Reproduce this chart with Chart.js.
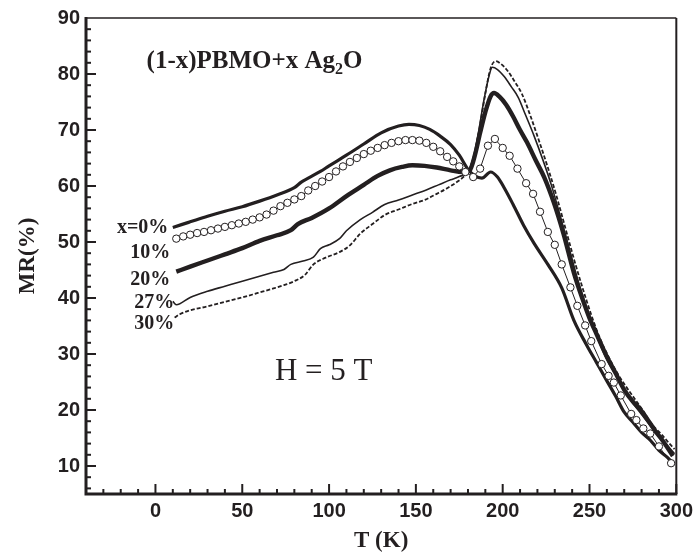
<!DOCTYPE html>
<html><head><meta charset="utf-8">
<script src="https://cdn.jsdelivr.net/npm/chart.js@4"></script>
<style>html,body{margin:0;padding:0;background:#fff}canvas{display:block}</style>
</head><body>
<canvas id="c" width="698" height="559" style="width:698px;height:559px"></canvas>
<script>
// ---- data ----
const xTicks = [0, 50, 100, 150, 200, 250, 300];
const yTicks = [10, 20, 30, 40, 50, 60, 70, 80, 90];
const seriesLabels = ['x=0%', '10%', '20%', '27%', '30%'];

const T0  = [10,15,20,30,40,50,60,70,80,84,88,95,100,110,120,130,140,146,152,158,164,170,175,180,184,188,193,197,201,206,212,218,226,234,241,248,254,260,265,270,275,280,285,290,295,298];
const MR0 = [52.6,53.1,53.6,54.6,55.5,56.3,57.3,58.4,59.7,60.7,61.4,62.6,63.6,65.5,67.5,69.5,70.7,71.0,70.8,70.1,68.9,67.4,65.5,63.0,61.8,61.4,62.5,61.6,59.6,56.7,53.0,49.8,46.0,41.8,36.0,31.8,28.5,25.2,22.5,19.6,17.8,16.0,14.6,12.8,11.5,10.5];

const T10  = [12,16,20,24,28,32,36,40,44,48,52,56,60,64,68,72,76,80,84,88,92,96,100,104,108,112,116,120,124,128,132,136,140,144,148,152,156,160,164,168,171.5,175,178.5,183,187,191.5,195.5,200,204,208.5,213.5,217.5,221.5,226,230,234,239,243,247.5,251,257,261,264,268,274,277,281,285,290,297];
const MR10 = [50.6,51.0,51.3,51.6,51.8,52.1,52.4,52.7,53.0,53.3,53.6,54.0,54.4,54.9,55.6,56.4,57.0,57.6,58.2,59.2,60.0,60.8,61.6,62.6,63.5,64.3,65.0,65.7,66.3,66.8,67.3,67.7,68.0,68.2,68.2,68.1,67.7,67.0,66.2,65.2,64.4,63.5,62.5,61.6,63.1,67.2,68.4,66.8,65.4,63.1,60.5,58.6,55.4,51.8,49.5,46.0,41.9,38.6,35.1,32.3,28.2,26.1,24.9,22.6,19.3,18.2,16.7,15.8,13.5,10.5];

const T20  = [12,20,30,40,50,60,70,78,82,90,100,110,120,128,135,142,148,155,162,170,177,181,184,187,190,193,195,198,202,206,210,214,219,224,229.5,235,241,246,250,254,260,265,270,275,279,283,288,292,298];
const MR20 = [44.7,45.6,46.7,47.8,48.9,50.2,51.2,52.1,53.2,54.3,56.0,58.2,60.2,61.8,62.8,63.4,63.7,63.6,63.3,62.8,62.5,62.8,65.5,69.5,73.2,76.0,76.6,76.0,74.5,72.4,70.0,67.8,64.6,61.5,57.0,51.5,44.5,39.8,36.4,33.6,29.5,26.6,23.6,21.5,20.2,18.5,16.2,14.6,11.8];

const T27  = [10,12,20,30,40,50,59,68,74,78,85,91,95,100,106,110,118,125,132,140,148,156,163,170,175,180,183,186,189,192,194,197,201,205,209,213,218,223,228,233,238,243,248,252,256,260,265,270,275,280,285,290,295,299];
const MR27 = [39.4,38.8,40.1,41.2,42.1,43.0,43.8,44.6,45.1,46.0,46.6,47.3,48.8,49.5,50.6,52.0,54.0,55.3,56.7,57.5,58.4,59.3,60.2,61.1,61.7,62.6,65.0,69.5,75.0,79.5,81.2,80.8,79.5,77.7,75.8,72.8,69.0,64.8,60.2,54.8,49.2,43.5,38.6,35.0,31.8,29.0,26.3,23.6,21.2,19.2,17.2,15.4,13.6,12.2];

const T30  = [11,14,20,30,40,50,59,68,74,80,86,91,98,106,112,118,125,132,140,148,155,162,168,174,178,181,184,187,190,193,196,199,203,207,211,216,221,226,231,236,241,246,251,256,261,266,271,276,281,286,291,296,299];
const MR30 = [36.5,37.1,37.8,38.5,39.3,40.1,40.9,41.7,42.3,43.0,44.1,46.0,47.2,48.2,49.4,51.5,53.2,54.8,55.8,56.8,57.5,58.6,59.6,60.8,61.8,63.0,66.0,71.0,76.5,81.0,82.3,81.8,80.5,78.6,76.5,72.5,68.0,63.3,58.2,52.6,47.0,41.8,37.0,32.8,29.5,26.6,24.2,22.0,19.8,17.4,15.8,14.0,13.0];

// ---- chart ----
const INK = '#231f20';
const SANS = '"Liberation Sans", Arial, Helvetica, sans-serif';
const SERIF = '"Liberation Serif", "Times New Roman", Times, serif';
const pts = (xs, ys) => xs.map((x, i) => ({x, y: ys[i]}));

const annotations = [
  {text: 'x=0%', t: 7.4,  mr: 52.5, align: 'right', font: 'bold 20px ' + SERIF},
  {text: '10%',  t: 8.5,  mr: 48.1, align: 'right', font: 'bold 20px ' + SERIF},
  {text: '20%',  t: 8.5,  mr: 43.3, align: 'right', font: 'bold 20px ' + SERIF},
  {text: '27%',  t: 10.8, mr: 39.1, align: 'right', font: 'bold 20px ' + SERIF},
  {text: '30%',  t: 10.8, mr: 35.3, align: 'right', font: 'bold 20px ' + SERIF},
  {text: 'H = 5 T', t: 68.8, mr: 26.8, align: 'left', font: '31px ' + SERIF}
];

const framePlugin = {
  id: 'frame',
  afterDraw(chart) {
    const {ctx, chartArea: a, scales: {x, y}} = chart;
    ctx.save();
    ctx.strokeStyle = INK;
    ctx.lineCap = 'butt';
    ctx.lineWidth = 1.5;
    ctx.beginPath(); ctx.moveTo(a.left, a.top); ctx.lineTo(a.right, a.top); ctx.stroke();
    ctx.lineWidth = 2;
    ctx.beginPath(); ctx.moveTo(a.right, a.top); ctx.lineTo(a.right, a.bottom); ctx.stroke();
    ctx.lineWidth = 2;
    for (let v = -30; v <= 300; v += 10) {
      const px = x.getPixelForValue(v);
      const len = (v % 50 === 0) ? 10 : 5;
      ctx.beginPath(); ctx.moveTo(px, a.bottom); ctx.lineTo(px, a.bottom - len); ctx.stroke();
    }
    for (let v = 6; v <= 88; v += 2) {
      const py = y.getPixelForValue(v);
      const len = (v % 10 === 0) ? 10 : 5;
      ctx.beginPath(); ctx.moveTo(a.left, py); ctx.lineTo(a.left + len, py); ctx.stroke();
    }
    ctx.lineWidth = 3;
    ctx.beginPath(); ctx.moveTo(a.left, a.top - 1); ctx.lineTo(a.left, a.bottom); ctx.lineTo(a.right + 1, a.bottom); ctx.stroke();

    ctx.fillStyle = INK;
    ctx.textBaseline = 'middle';
    for (const an of annotations) {
      ctx.font = an.font;
      ctx.textAlign = an.align;
      ctx.fillText(an.text, x.getPixelForValue(an.t), y.getPixelForValue(an.mr));
    }
    const tx = x.getPixelForValue(-5.1), ty = y.getPixelForValue(82.2);
    ctx.textAlign = 'left';
    ctx.font = 'bold 25px ' + SERIF;
    const part1 = '(1-x)PBMO+x Ag';
    ctx.fillText(part1, tx, ty);
    let w = ctx.measureText(part1).width;
    ctx.font = 'bold 16px ' + SERIF;
    ctx.fillText('2', tx + w, ty + 8);
    w += ctx.measureText('2').width;
    ctx.font = 'bold 25px ' + SERIF;
    ctx.fillText('O', tx + w, ty);
    ctx.restore();
  }
};

const lineBase = {showLine: true, pointRadius: 0, borderColor: INK, backgroundColor: INK, fill: false};

new Chart(document.getElementById('c'), {
  type: 'scatter',
  data: {
    datasets: [
      Object.assign({}, lineBase, {label: seriesLabels[1], data: pts(T10, MR10), borderWidth: 1, tension: 0,
        pointRadius: 3.7, pointBorderWidth: 1, pointBackgroundColor: '#ffffff', pointBorderColor: INK}),
      Object.assign({}, lineBase, {label: seriesLabels[0], data: pts(T0, MR0), borderWidth: 3.2, cubicInterpolationMode: 'monotone'}),
      Object.assign({}, lineBase, {label: seriesLabels[2], data: pts(T20, MR20), borderWidth: 4.4, cubicInterpolationMode: 'monotone'}),
      Object.assign({}, lineBase, {label: seriesLabels[3], data: pts(T27, MR27), borderWidth: 1.6, cubicInterpolationMode: 'monotone'}),
      Object.assign({}, lineBase, {label: seriesLabels[4], data: pts(T30, MR30), borderWidth: 1.8, borderDash: [4, 2], cubicInterpolationMode: 'monotone'})
    ]
  },
  options: {
    responsive: false,
    animation: false,
    devicePixelRatio: 1,
    layout: {padding: {top: 10, right: 14, left: 0, bottom: 0}},
    plugins: {legend: {display: false}, tooltip: {enabled: false}},
    scales: {
      x: {
        type: 'linear', min: -40, max: 300,
        afterBuildTicks: s => { s.ticks = xTicks.map(v => ({value: v})); },
        afterFit: s => { s.height = 65; },
        grid: {display: false, drawTicks: false},
        border: {display: false},
        ticks: {color: INK, padding: 5, font: {family: SANS, size: 20, weight: 'bold'}},
        title: {display: true, text: 'T (K)', color: INK, padding: {top: 0, bottom: 4},
          font: {family: SERIF, size: 23, weight: 'bold'}}
      },
      y: {
        type: 'linear', min: 5, max: 90,
        afterBuildTicks: s => { s.ticks = yTicks.map(v => ({value: v})); },
        afterFit: s => { s.width = 86; },
        grid: {display: false, drawTicks: false},
        border: {display: false},
        ticks: {color: INK, padding: 6, font: {family: SANS, size: 20, weight: 'bold'}},
        title: {display: true, text: 'MR(%)', color: INK, padding: {top: 14, bottom: 0},
          font: {family: SERIF, size: 23, weight: 'bold'}}
      }
    }
  },
  plugins: [framePlugin]
});
</script>
</body></html>
